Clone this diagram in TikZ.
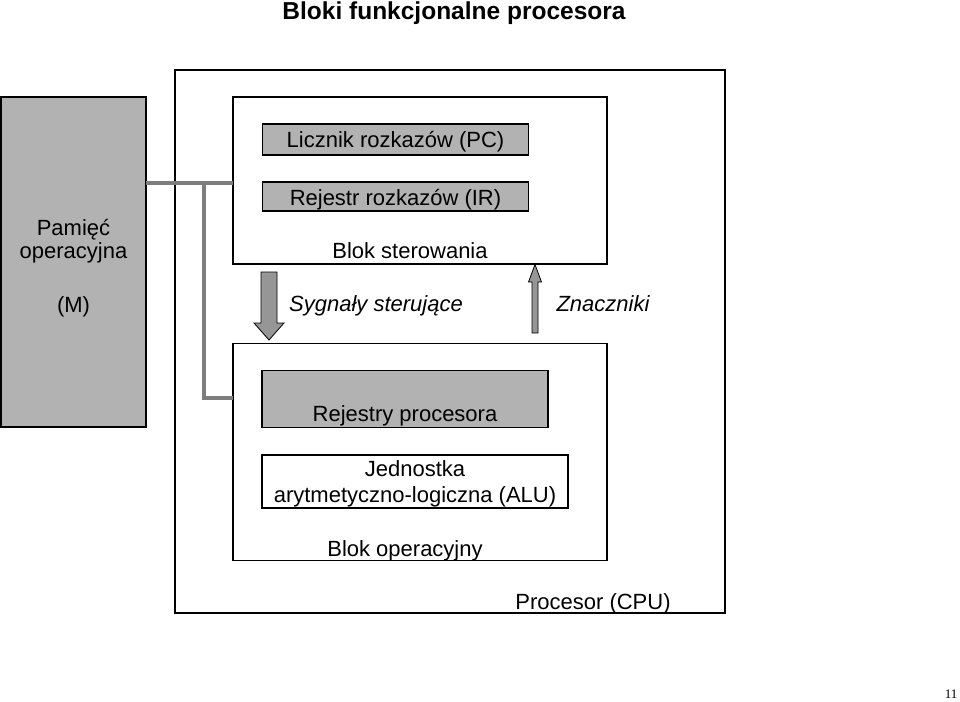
\documentclass[tikz,border=0pt]{standalone}
\usepackage{fontspec}
\setmainfont{Liberation Sans}
\newfontfamily\serifnum{Liberation Serif}
\definecolor{boxgray}{RGB}{178,178,178}
\definecolor{busgray}{RGB}{125,125,125}
\definecolor{arrgray}{RGB}{150,150,150}
\begin{document}
\begin{tikzpicture}[x=1pt,y=-1pt,
  box/.style={draw=black,rectangle,inner sep=0pt,outer sep=0pt},
  graybox/.style={box,fill=boxgray,line width=1.6pt},
  whitebox/.style={box,fill=white,line width=1.8pt},
  txt/.style={font=\fontsize{22}{26}\selectfont,inner sep=0pt,anchor=base},
  itxt/.style={txt,font=\fontsize{22}{26}\selectfont\itshape},
  bus/.style={draw=busgray,line width=4pt},
  blockarrow/.style={fill=arrgray,draw=black,line width=0.8pt}]
\useasboundingbox (0,0) rectangle (960,701);
% title
\node[txt,font=\fontsize{24.5}{28}\selectfont\bfseries] (title) at (454,20) {Bloki funkcjonalne procesora};
% CPU
\node[box,line width=1.4pt,minimum width=550pt,minimum height=543pt] (cpu) at (450,341.5) {};
\node[txt] (cpulbl) at (593,609) {Procesor (CPU)};
% memory
\node[box,fill=boxgray,line width=1.6pt,minimum width=145pt,minimum height=330pt] (mem) at (73.5,262) {};
\node[txt] (mem1) at (73.5,235) {Pamięć};
\node[txt] (mem2) at (73.5,258) {operacyjna};
\node[txt] (mem3) at (73.5,312) {(M)};
% control block
\node[whitebox,minimum width=374pt,minimum height=167pt] (ctrl) at (420,180.5) {};
\node[graybox,minimum width=266pt,minimum height=31pt] (pc) at (395.5,139.5) {};
\node[txt] (pctxt) at (395.5,147.5) {Licznik rozkazów (PC)};
\node[graybox,minimum width=266pt,minimum height=29pt] (ir) at (395.5,196.5) {};
\node[txt] (irtxt) at (395.5,205) {Rejestr rozkazów (IR)};
\node[txt] (ctrllbl) at (410,258.5) {Blok sterowania};
% operational block
\node[whitebox,minimum width=374pt,minimum height=217pt] (op) at (420,452) {};
\node[graybox,minimum width=286pt,minimum height=57pt] (reg) at (405,399) {};
\node[txt] (regtxt) at (405,421) {Rejestry procesora};
\node[box,fill=white,line width=1.6pt,minimum width=306pt,minimum height=53pt] (alu) at (415,481.5) {};
\node[txt] (alu1) at (415,476) {Jednostka};
\node[txt] (alu2) at (415,502) {arytmetyczno-logiczna (ALU)};
\node[txt] (oplbl) at (405,556) {Blok operacyjny};
% bus
\coordinate (j1) at (204,183);
\coordinate (j2) at (204,398);
\draw[bus] (mem.east |- j1) -- (ctrl.west |- j1);
\draw[bus] (j1) -- (j2) -- (op.west |- j2);
% signal arrows
\draw[blockarrow] (261,272) -- (277,272) -- (277,323) -- (284,323) -- (269,340) -- (254,323) -- (261,323) -- cycle;
\node[itxt] (sig) at (376,311) {Sygnały sterujące};
\draw[blockarrow] (532,333) -- (538,333) -- (538,282) -- (541.5,282) -- (535,264.5) -- (528.5,282) -- (532,282) -- cycle;
\node[itxt] (flags) at (603,311) {Znaczniki};
% page number
\node[inner sep=0pt,anchor=base,font=\serifnum\fontsize{13}{15}\selectfont] (pg) at (951,698) {11};
\end{tikzpicture}
\end{document}
